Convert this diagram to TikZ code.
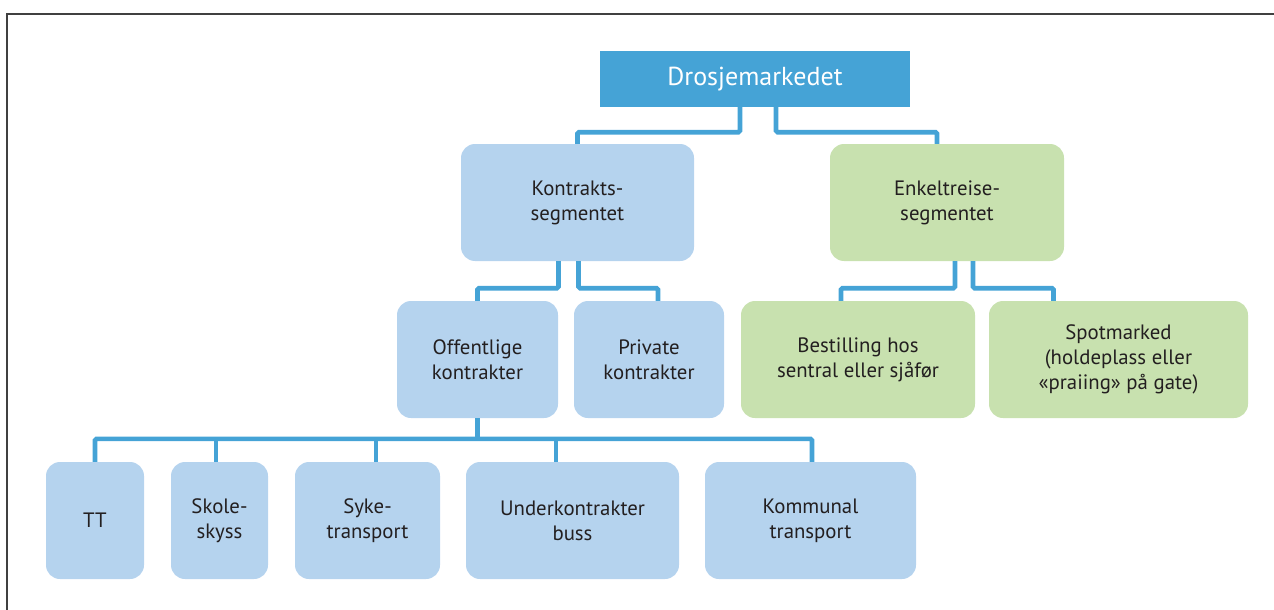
\documentclass[tikz,border=0pt]{standalone}
\usepackage{fontspec}
\setmainfont{PT Sans}
\definecolor{dblue}{HTML}{45A3D6}
\definecolor{lblue}{HTML}{B5D3EE}
\definecolor{lgreen}{HTML}{C8E1AF}
\definecolor{txt}{HTML}{231F20}
\begin{document}
\begin{tikzpicture}[x=1pt,y=-1pt,
  box/.style={rounded corners=14pt, inner sep=0pt, align=center, text=txt,
    font=\fontsize{20.8}{25}\selectfont, minimum height=117pt},
  bluebox/.style={box, fill=lblue},
  greenbox/.style={box, fill=lgreen},
  conn/.style={draw=dblue, line width=4.6pt, rounded corners=1.5pt}]
\useasboundingbox (0,0) rectangle (1274,610);
\draw[line width=1.3pt, color=black!75] (7,610) -- (7,14) -- (1274,14);

\node[fill=dblue, text=white, minimum width=310pt, minimum height=56pt, inner sep=0pt,
  font=\fontsize{26}{30}\selectfont] (top) at (755,79) {Drosjemarkedet};

\node[bluebox, minimum width=233pt] (kon) at (577.5,202.5) {Kontrakts-\\segmentet};
\node[greenbox, minimum width=234pt] (enk) at (947,202.5) {Enkeltreise-\\segmentet};

\node[bluebox, minimum width=161pt] (off) at (477.5,359.5) {Offentlige\\kontrakter};
\node[bluebox, minimum width=150pt] (pri) at (649,359.5) {Private\\kontrakter};
\node[greenbox, minimum width=234pt] (bes) at (858,359.5) {Bestilling hos\\sentral eller sjåfør};
\node[greenbox, minimum width=259pt] (spo) at (1118.5,359.5) {Spotmarked\\(holdeplass eller\\«praiing» på gate)};

\node[bluebox, minimum width=98pt] (tt) at (95,520.5) {TT};
\node[bluebox, minimum width=97pt] (sko) at (219.5,520.5) {Skole-\\skyss};
\node[bluebox, minimum width=145pt] (syk) at (367.5,520.5) {Syke-\\transport};
\node[bluebox, minimum width=213pt] (und) at (572.5,520.5) {Underkontrakter\\buss};
\node[bluebox, minimum width=211pt] (kom) at (810.5,520.5) {Kommunal\\transport};

% connectors
\draw[conn] ([xshift=-15pt]top.south) -- ++(0,25) -| (kon.north);
\draw[conn] ([xshift=21pt]top.south) -- ++(0,25) -| ([xshift=-10pt]enk.north);

\draw[conn] ([xshift=-19pt]kon.south) -- ++(0,27) -| (off.north);
\draw[conn] ([xshift=1pt]kon.south) -- ++(0,27) -| ([xshift=9pt]pri.north);

\draw[conn] ([xshift=8pt]enk.south) -- ++(0,27) -| ([xshift=-17pt]bes.north);
\draw[conn] ([xshift=26pt]enk.south) -- ++(0,27) -| ([xshift=-65pt]spo.north);

\draw[conn] (off.south) -- ++(0,21);
\draw[conn] (tt.north) -- ++(0,-23) coordinate (bl) -| ([xshift=1.5pt]kom.north);
\draw[conn] ([xshift=-3.5pt]sko.north) -- ([xshift=-3.5pt]sko.north |- bl);
\draw[conn] ([xshift=8.5pt]syk.north) -- ([xshift=8.5pt]syk.north |- bl);
\draw[conn] ([xshift=-16.5pt]und.north) -- ([xshift=-16.5pt]und.north |- bl);
\end{tikzpicture}
\end{document}
